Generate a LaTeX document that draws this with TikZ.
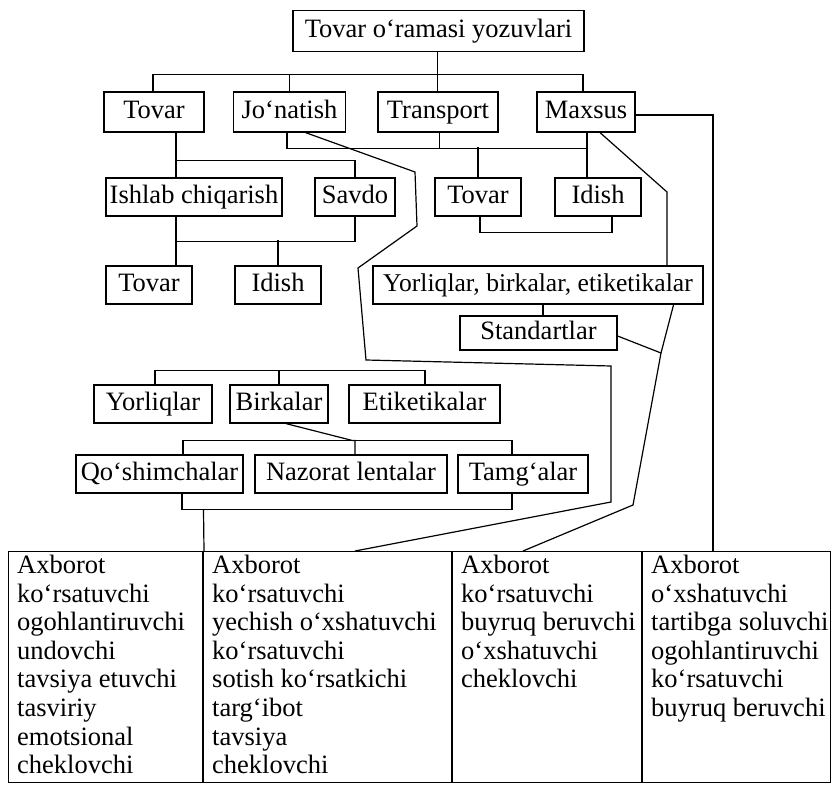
\documentclass[tikz,border=0pt]{standalone}
\usepackage{fontspec}
\setmainfont{Liberation Serif}
\begin{document}
\begin{tikzpicture}[x=1pt,y=-1pt,
  lbl/.style={font=\fontsize{26.5}{28}\selectfont},
  box/.style={draw, line width=1.2pt, inner sep=0pt, text height=17.5pt, text depth=5pt, lbl},
  ln/.style={line width=1.2pt},
  coltext/.style={anchor=north west, inner sep=0pt, align=left, font=\fontsize{26.5}{28.6}\selectfont}]
\useasboundingbox[fill=white] (0,0) rectangle (839,787);

% nodes
\node[box, minimum width=291pt, minimum height=41pt] (top) at (438.5,31) {Tovar o‘ramasi yozuvlari};

\node[box, minimum width=100pt, minimum height=40pt] (tovarA) at (154,112) {Tovar};
\node[box, minimum width=112pt, minimum height=40pt] (jonatish) at (289.5,112) {Jo‘natish};
\node[box, minimum width=120pt, minimum height=40pt] (transport) at (438,112) {Transport};
\node[box, minimum width=98pt, minimum height=40pt] (maxsus) at (586,112) {Maxsus};

\node[box, minimum width=176pt, minimum height=38pt] (ishlab) at (194,197) {Ishlab chiqarish};
\node[box, minimum width=80pt, minimum height=38pt] (savdo) at (355,197) {Savdo};
\node[box, minimum width=86pt, minimum height=38pt] (tovarB) at (478,197) {Tovar};
\node[box, minimum width=86pt, minimum height=38pt] (idishA) at (598,197) {Idish};

\node[box, minimum width=86pt, minimum height=38pt] (tovarC) at (149,285) {Tovar};
\node[box, minimum width=86pt, minimum height=38pt] (idishB) at (278,285) {Idish};
\node[box, minimum width=330pt, minimum height=38pt, font=\fontsize{25.6}{28}\selectfont] (ybe) at (538,285) {Yorliqlar, birkalar, etiketikalar};
\node[box, minimum width=157pt, minimum height=34pt] (standart) at (538.5,333) {Standartlar};

\node[box, minimum width=118pt, minimum height=38pt] (yorl) at (153,404) {Yorliqlar};
\node[box, minimum width=98pt, minimum height=38pt] (birk) at (279,404) {Birkalar};
\node[box, minimum width=151pt, minimum height=38pt] (etik) at (424.5,404) {Etiketikalar};

\node[box, minimum width=167pt, minimum height=38pt] (qosh) at (159.5,474) {Qo‘shimchalar};
\node[box, minimum width=192pt, minimum height=38pt] (naz) at (351,474) {Nazorat lentalar};
\node[box, minimum width=130pt, minimum height=38pt] (tamg) at (523,474) {Tamg‘alar};

% table
\node[draw, line width=1.2pt, anchor=north west, minimum width=822pt, minimum height=231pt, inner sep=0pt] (table) at (8,551) {};
\draw[ln] ([xshift=195pt]table.north west) -- ([xshift=195pt]table.south west);
\draw[ln] ([xshift=444pt]table.north west) -- ([xshift=444pt]table.south west);
\draw[ln] ([xshift=634pt]table.north west) -- ([xshift=634pt]table.south west);

\node[coltext] (c1) at ([xshift=9pt,yshift=-4pt]table.north west) {Axborot\\ko‘rsatuvchi\\ogohlantiruvchi\\undovchi\\tavsiya etuvchi\\tasviriy\\emotsional\\cheklovchi};
\node[coltext] (c2) at ([xshift=204pt,yshift=-4pt]table.north west) {Axborot\\ko‘rsatuvchi\\yechish o‘xshatuvchi\\ko‘rsatuvchi\\sotish ko‘rsatkichi\\targ‘ibot\\tavsiya\\cheklovchi};
\node[coltext] (c3) at ([xshift=453pt,yshift=-4pt]table.north west) {Axborot\\ko‘rsatuvchi\\buyruq beruvchi\\o‘xshatuvchi\\cheklovchi};
\node[coltext] (c4) at ([xshift=643pt,yshift=-4pt]table.north west) {Axborot\\o‘xshatuvchi\\tartibga soluvchi\\ogohlantiruvchi\\ko‘rsatuvchi\\buyruq beruvchi};

% connectors
\draw[ln] ([xshift=-1pt]top.south) -- ([xshift=-1pt]top.south |- transport.north);
\draw[ln] ([xshift=-1pt]tovarA.north) -- ++(0,-17) -| ([xshift=-3pt]maxsus.north);
\draw[ln] (jonatish.north) -- ++(0,-17);

\draw[ln] ([yshift=-3pt]maxsus.east) -| ([xshift=705pt]table.north west);

\draw[ln] ([xshift=22pt]tovarA.south) -- ([xshift=-18pt]ishlab.north);
\draw[ln] ([xshift=22pt]tovarA.south) ++(0,28) -| (savdo.north);

\draw[ln] ([xshift=-2.5pt]jonatish.south) -- ++(0,16) -| ([xshift=-11pt]idishA.north);
\draw[ln] ([xshift=1.5pt]transport.south) -- ++(0,16);
\draw[ln] ([xshift=1pt]maxsus.south) -- ++(0,16);
\draw[ln] (tovarB.north) -- ++(0,-30);
\draw[ln] ([xshift=2pt]tovarB.south) -- ++(0,16) -| ([xshift=14pt]idishA.south);

\draw[ln] ([xshift=-18pt]ishlab.south) -- ([xshift=27pt]tovarC.north);
\draw[ln] ([xshift=-18pt]ishlab.south) ++(0,25) -| (savdo.south);
\draw[ln] (idishB.north) -- ++(0,-25);

\coordinate (m1) at (667,192);
\draw[ln] ([xshift=14pt]maxsus.south) -- (m1) -- (m1 |- ybe.north);

\draw[ln] ([xshift=5pt]ybe.south) -- ([xshift=4.5pt]standart.north);

\coordinate (j1) at (661,353);
\coordinate (j2) at (633,505);
\draw[ln] ([xshift=-30pt]ybe.south east) -- (j1);
\draw[ln] ([yshift=-3pt]standart.east) -- (j1) -- (j2) -- ([xshift=515pt]table.north west);

\coordinate (p1) at (415,172);
\coordinate (p2) at (417,226);
\coordinate (p3) at (358,268);
\coordinate (p4) at (366,360);
\coordinate (p5) at (611,366);
\coordinate (p6) at (611,502);
\draw[ln] ([xshift=16pt]jonatish.south) -- (p1) -- (p2) -- (p3) -- (p4) -- (p5) -- (p6) -- ([xshift=347pt]table.north west);

\draw[ln] ([xshift=2pt]yorl.north) -- ++(0,-14) -| ([xshift=0.5pt]etik.north);
\draw[ln] (birk.north) -- ++(0,-14);

\draw[ln] ([xshift=7pt]birk.south) -- ([xshift=1pt,yshift=14pt]naz.north) -- ([xshift=4pt,yshift=14pt]naz.north) -- ([xshift=4pt]naz.north);
\draw[ln] ([xshift=23.5pt]qosh.north) -- ++(0,-14) -| ([xshift=-11pt]tamg.north);

\draw[ln] ([xshift=22.5pt]qosh.south) -- ++(0,16) -| ([xshift=-11pt]tamg.south);
\draw[ln] ([xshift=44pt]qosh.south) ++(0,16) -- ([xshift=196pt]table.north west);
\end{tikzpicture}
\end{document}
